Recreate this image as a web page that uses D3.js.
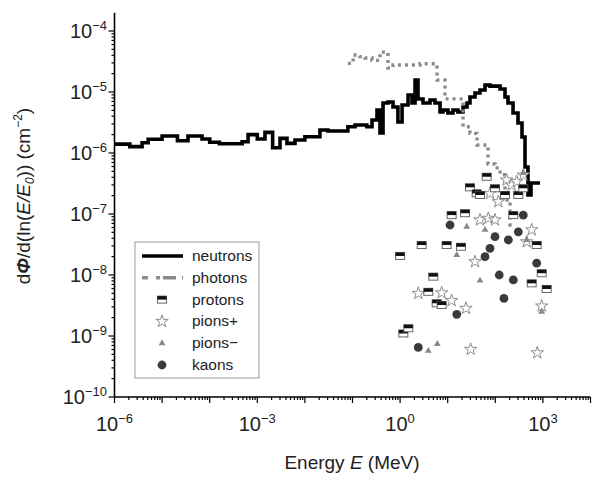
<!DOCTYPE html>
<html>
<head>
<meta charset="utf-8">
<script src="https://cdn.jsdelivr.net/npm/d3@7/dist/d3.min.js"></script>
<style>
body { margin:0; background:#fff; }
svg { font-family: Arial, "Liberation Sans", sans-serif; }
.axisLine { stroke:#000; stroke-width:1.6; fill:none; }
.tick { stroke:#000; stroke-width:1.2; }
.tickText { font-size:20px; fill:#222; }
.axisTitle { font-size:19px; fill:#222; }
.neutron-line { fill:none; stroke:#000; stroke-width:3.6; stroke-linejoin:miter; }
.photon-line { fill:none; stroke:#8a8a8a; stroke-width:3.4; stroke-dasharray:3,4; }
.legendBox { fill:#fff; stroke:#999; stroke-width:1; }
.legendText { font-size:15.5px; fill:#222; }
</style>
</head>
<body>
<svg id="chart" width="595" height="479"></svg>
<script>
/* neutrons: bin edges (MeV) and flux per bin */
var neutronEdges = [1e-6, 2.1e-6, 3.8e-6, 5.1e-6, 1.0e-5, 2.1e-5, 3.5e-5, 6.9e-5, 1.0e-4, 1.6e-4,
  4.8e-4, 6.4e-4, 1.0e-3, 1.45e-3, 2.1e-3, 3.0e-3, 4.2e-3, 6.2e-3, 0.01, 0.0207,
  0.0305, 0.080, 0.113, 0.20, 0.257, 0.327, 0.378, 0.438, 0.557, 0.71,
  0.90, 1.10, 1.47, 1.78, 2.06, 2.38, 3.03, 4.25, 5.4, 6.9,
  7.96, 10.1, 12.9, 16.4, 21.0, 25.5, 29.4, 37.5, 47.7, 60.8,
  77.4, 126, 160, 185, 236, 300, 364, 421, 486, 562, 870]
var neutronFlux = [1.40e-6, 1.27e-6, 1.47e-6, 1.68e-6, 1.90e-6, 1.59e-6, 1.90e-6, 1.70e-6, 1.50e-6, 1.42e-6,
  1.53e-6, 2.0e-6, 1.70e-6, 2.18e-6, 1.22e-6, 1.74e-6, 1.44e-6, 1.63e-6, 1.85e-6, 2.38e-6,
  2.30e-6, 2.70e-6, 2.88e-6, 2.70e-6, 3.48e-6, 5.07e-6, 2.13e-6, 6.6e-6, 6.86e-6, 5.67e-6,
  3.22e-6, 6.12e-6, 8.93e-6, 6.6e-6, 1.57e-5, 7.67e-6, 6.6e-6, 7.4e-6, 6.6e-6, 4.7e-6,
  5.07e-6, 4.53e-6, 5.07e-6, 4.7e-6, 5.67e-6, 6.6e-6, 8.28e-6, 9.64e-6, 1.08e-5, 1.30e-5,
  1.25e-5, 1.12e-5, 8.28e-6, 6.6e-6, 4.53e-6, 3.10e-6, 1.83e-6, 5.9e-7, 2.05e-7, 3.22e-7]

/* photons */
var photonEdges = [0.080, 0.103, 0.144, 0.183, 0.257, 0.378, 0.557, 0.71, 2.62, 5.96,
  8.77, 21.0, 29.4, 41.3, 70.3, 98.6, 126, 160, 204, 259]
var photonFlux = [2.95e-5, 4.05e-5, 3.8e-5, 3.6e-5, 3.3e-5, 4.5e-5, 2.47e-5, 2.77e-5, 2.9e-5, 1.57e-5,
  7.7e-6, 2.7e-6, 2.1e-6, 1.35e-6, 6.6e-7, 5.7e-7, 4.4e-7, 1.7e-7, 6.6e-8]

/* protons */
var protonE = [1.0, 1.17, 1.49, 2.84, 3.91, 4.98, 5.87, 7.48, 9.5, 12.1,
  19.0, 23.1, 29.4, 40.6, 47.7, 65.9, 98.6, 160, 239, 304,
  387, 582, 741, 944, 1200]
var protonFlux = [2.05e-8, 1.1e-9, 1.34e-9, 3.1e-8, 5.3e-9, 9.4e-9, 3.44e-9, 3.22e-9, 3.1e-8, 9.6e-8,
  2.9e-8, 1.03e-7, 2.74e-7, 2.18e-7, 2.05e-7, 4.08e-7, 2.64e-7, 2.05e-7, 9.6e-8, 2.05e-7,
  2.64e-7, 7.3e-9, 3.1e-8, 1.07e-8, 5.9e-9]

/* pions+ */
var pionPlusE = [2.41, 7.48, 12.1, 24.2, 30.4, 37.5, 47.7, 71.3, 77.4, 98.6,
  116, 173, 221, 282, 387, 457, 582, 762, 944]
var pionPlusFlux = [5.0e-9, 5.1e-9, 3.8e-9, 2.84e-9, 6.05e-10, 1.65e-8, 8.0e-8, 8.5e-8, 2.18e-7, 8.0e-8,
  1.59e-7, 3.6e-7, 2.98e-7, 3.39e-7, 4.36e-7, 3.5e-8, 5.5e-8, 5.3e-10, 3.1e-9]

/* pions- */
var pionMinusE = [3.91, 6.05, 15.5, 25.1, 47.7, 60.8, 387, 457, 944]
var pionMinusFlux = [5.7e-10, 7.4e-10, 2.13e-8, 6.2e-8, 8.1e-9, 5.5e-8, 4.7e-7, 3.75e-8, 2.5e-9]

/* kaons */
var kaonE = [2.41, 11.2, 15.5, 60.8, 77.4, 98.6, 121, 152, 188, 239, 304, 387, 741]
var kaonFlux = [6.5e-10, 6.6e-8, 2.27e-9, 2.0e-8, 2.74e-8, 4.25e-8, 1.0e-8, 4.15e-9, 3.75e-8, 8.3e-9, 5.1e-8, 9.6e-8, 1.56e-8]

var xMajorLabels = [1e-6, 1e-3, 1, 1e3]
var xLabelExp = ["\u22126", "\u22123", "0", "3"]
var yLabelExp = ["\u221210", "\u22129", "\u22128", "\u22127", "\u22126", "\u22125", "\u22124"]

var legendNames = ["neutrons", "photons", "protons", "pions+", "pions\u2212", "kaons"]

var svg = d3.select("#chart")

var xScale = d3.scaleLog()
  .domain([1e-6, 1e4])
  .range([114.5, 590.5])
var yScale = d3.scaleLog()
  .domain([1e-10, Math.pow(10, -3.7)])
  .range([397, 397 - 6.3 * 61])

function pairUp(xs, ys) {
  return xs.map(function(d, i) { return { e: d, v: ys[i] } })
}
function stepPoints(edges, vals) {
  var pts = edges.map(function(d, i) {
    return { e: d, v: i < vals.length ? vals[i] : vals[vals.length - 1] }
  })
  return pts
}

/* step lines */
var stepLine = d3.line()
  .x(function(d) { return xScale(d.e) })
  .y(function(d) { return yScale(d.v) })
  .curve(d3.curveStepAfter)

svg.append("path")
  .attr("class", "neutron-line")
  .attr("d", stepLine(stepPoints(neutronEdges, neutronFlux)))
svg.append("path")
  .attr("class", "photon-line")
  .attr("d", stepLine(stepPoints(photonEdges, photonFlux)))

/* markers */
function protonMark(g) {
  g.append("rect")
    .attr("x", -4.5).attr("y", -3.5)
    .attr("width", 9).attr("height", 7)
    .attr("fill", "#fff").attr("stroke", "#666").attr("stroke-width", 1)
  g.append("rect")
    .attr("x", -4.5).attr("y", -3.5)
    .attr("width", 9).attr("height", 3.5)
    .attr("fill", "#111")
}
function starMark(g) {
  g.append("path")
    .attr("d", d3.symbol().type(d3.symbolStar).size(48)())
    .attr("fill", "#fff").attr("stroke", "#8c8c8c").attr("stroke-width", 1)
}
function triMark(g) {
  g.append("path")
    .attr("d", d3.symbol().type(d3.symbolTriangle).size(20)())
    .attr("fill", "#888")
}
function circleMark(g) {
  g.append("circle")
    .attr("r", 4.4)
    .attr("fill", "#3a3a3a")
}

function drawMarks(data, markFn) {
  svg.append("g").selectAll("g")
    .data(data)
    .enter()
    .append("g")
    .attr("transform", function(d) { return "translate(" + xScale(d.e) + "," + yScale(d.v) + ")" })
    .each(function() { markFn(d3.select(this)) })
}
drawMarks(pairUp(pionPlusE, pionPlusFlux), starMark)
drawMarks(pairUp(pionMinusE, pionMinusFlux), triMark)
drawMarks(pairUp(kaonE, kaonFlux), circleMark)
drawMarks(pairUp(protonE, protonFlux), protonMark)

/* axes */
var yTop = yScale.range()[1]
svg.append("line").attr("class", "axisLine")
  .attr("x1", xScale(1e-6)).attr("x2", xScale(1e-6))
  .attr("y1", yTop).attr("y2", 397)
svg.append("line").attr("class", "axisLine")
  .attr("x1", xScale(1e-6)).attr("x2", xScale(1e4))
  .attr("y1", 397).attr("y2", 397)

function isDecade(t) {
  var l = Math.log10(t)
  return Math.abs(l - Math.round(l)) < 1e-6
}

var xTicks = xScale.ticks(30)
svg.append("g").selectAll("line")
  .data(xTicks)
  .enter()
  .append("line")
  .attr("class", "tick")
  .attr("x1", function(d) { return xScale(d) })
  .attr("x2", function(d) { return xScale(d) })
  .attr("y1", 397)
  .attr("y2", function(d) { return isDecade(d) ? 403 : 400 })

var yTicks = yScale.ticks(30).filter(function(d) { return yScale(d) >= yTop - 0.5 })
svg.append("g").selectAll("line")
  .data(yTicks)
  .enter()
  .append("line")
  .attr("class", "tick")
  .attr("y1", function(d) { return yScale(d) })
  .attr("y2", function(d) { return yScale(d) })
  .attr("x1", xScale(1e-6))
  .attr("x2", function(d) { return xScale(1e-6) - (isDecade(d) ? 6 : 3) })

/* tick labels */
xMajorLabels.forEach(function(v, i) {
  var t = svg.append("text")
    .attr("class", "tickText")
    .attr("text-anchor", "middle")
    .attr("x", xScale(v))
    .attr("y", 431)
  t.append("tspan").text("10")
  t.append("tspan").attr("dy", -8).attr("font-size", "13px").text(xLabelExp[i])
})
yLabelExp.forEach(function(lab, i) {
  var v = Math.pow(10, -10 + i)
  var t = svg.append("text")
    .attr("class", "tickText")
    .attr("text-anchor", "end")
    .attr("x", 107)
    .attr("y", yScale(v) + 7)
  t.append("tspan").text("10")
  t.append("tspan").attr("dy", -8).attr("font-size", "13px").text(lab)
})

/* axis titles */
var xTitle = svg.append("text")
  .attr("class", "axisTitle")
  .attr("text-anchor", "middle")
  .attr("x", 352)
  .attr("y", 469)
xTitle.append("tspan").text("Energy ")
xTitle.append("tspan").attr("font-style", "italic").text("E")
xTitle.append("tspan").text(" (MeV)")

var yTitle = svg.append("text")
  .attr("class", "axisTitle")
  .attr("text-anchor", "middle")
  .attr("transform", "translate(30,196) rotate(-90)")
yTitle.append("tspan").text("d")
yTitle.append("tspan").attr("font-style", "italic").attr("font-weight", "bold").text("\u03A6")
yTitle.append("tspan").text("/d(ln(")
yTitle.append("tspan").attr("font-style", "italic").text("E/E")
yTitle.append("tspan").attr("font-style", "italic").attr("font-size", "12px").attr("dy", 4).text("0")
yTitle.append("tspan").attr("dy", -4).text(")) (cm")
yTitle.append("tspan").attr("font-size", "12px").attr("dy", -8).text("\u22122")
yTitle.append("tspan").attr("dy", 8).text(")")

/* legend */
var legend = svg.append("g")
legend.append("rect")
  .attr("class", "legendBox")
  .attr("x", 135).attr("y", 242)
  .attr("width", 124).attr("height", 136)
var legendMarks = [null, null, protonMark, starMark, triMark, circleMark]
legendNames.forEach(function(name, i) {
  var ly = 256 + i * 21.8
  if (i == 0) {
    legend.append("line").attr("class", "neutron-line")
      .attr("x1", 142).attr("x2", 183).attr("y1", ly).attr("y2", ly)
  } else if (i == 1) {
    legend.append("line").attr("class", "photon-line")
      .attr("x1", 142).attr("x2", 183).attr("y1", ly).attr("y2", ly)
      .style("stroke-dasharray", "6,8,4,3,13")
  } else {
    var g = legend.append("g").attr("transform", "translate(162," + ly + ")")
    legendMarks[i](g)
  }
  legend.append("text")
    .attr("class", "legendText")
    .attr("x", 192)
    .attr("y", ly + 5)
    .text(name)
})
</script>
</body>
</html>
